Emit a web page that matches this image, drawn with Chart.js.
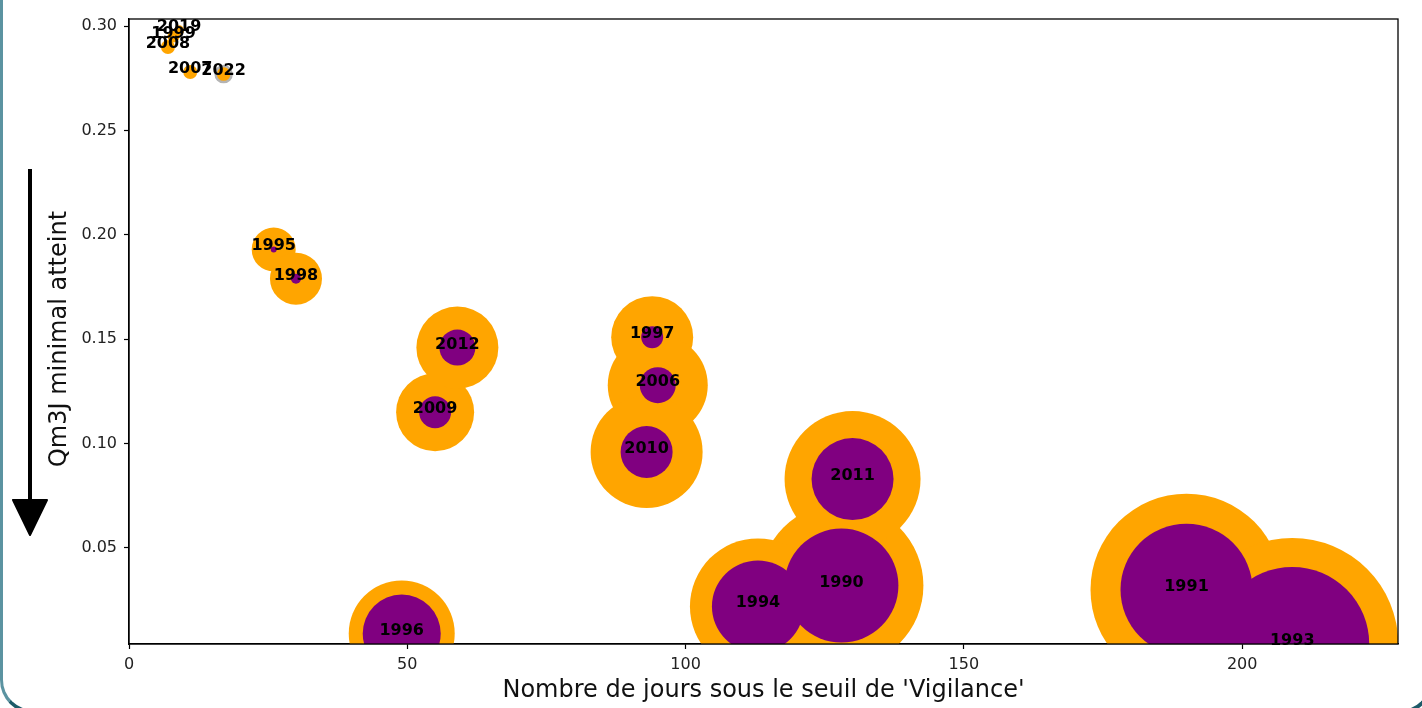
<!DOCTYPE html>
<html>
<head>
<meta charset="utf-8">
<script src="https://cdn.jsdelivr.net/npm/chart.js@4/dist/chart.umd.min.js"></script>
<style>
  html, body { margin: 0; padding: 0; width: 1422px; height: 708px; overflow: hidden; background: #ffffff; }
  #frame {
    position: absolute; left: 0; top: -40px; width: 1427px; height: 750px;
    border-left: 3px solid #5b93a1; border-right: 4px solid #1d5a68; border-bottom: 4px solid #1d5a68;
    border-radius: 0 0 34px 34px; background: #ffffff;
  }
  #wrap { position: absolute; left: 0; top: 0; width: 1422px; height: 708px; }
</style>
</head>
<body>
<div id="frame"></div>
<div id="wrap"><canvas id="chart"></canvas></div>
<script>
// Données
const years = [1990, 1991, 1993, 1994, 1995, 1996, 1997, 1998, 1999, 2006, 2007, 2008, 2009, 2010, 2011, 2012, 2019, 2022];
const joursVigilance = [128, 190, 209, 113, 26, 49, 94, 30, 8, 95, 11, 7, 55, 93, 130, 59, 9, 17];
const qm3jMin = [0.032, 0.030, 0.004, 0.022, 0.193, 0.009, 0.151, 0.179, 0.295, 0.128, 0.278, 0.290, 0.115, 0.096, 0.083, 0.146, 0.298, 0.277];
const tailleExt = [82, 96, 106, 68, 22, 53, 41, 26, 6, 50, 7, 7, 39, 56, 68, 41, 5, 8];
const tailleInt = [57, 66, 77, 46, 3, 39, 11, 5, 0, 18, 0, 0, 16, 26, 41, 18, 0, 0];
const anneeCourante = 2022;

const xTicks = [0, 50, 100, 150, 200];
const yTicks = [0.05, 0.10, 0.15, 0.20, 0.25, 0.30];
const titreX = "Nombre de jours sous le seuil de 'Vigilance'";
const titreY = "Qm3J minimal atteint";

// =======================
// Datasets
const ptsExt = years.map((a, i) => ({ x: joursVigilance[i], y: qm3jMin[i], r: tailleExt[i] }));
const ptsInt = years.map((a, i) => ({ x: joursVigilance[i], y: qm3jMin[i], r: tailleInt[i] }));

// Flèche + cadre + étiquettes
const decorPlugin = {
  id: "decor",
  afterDatasetsDraw(chart) {
    const { ctx, chartArea, scales } = chart;
    ctx.save();
    // étiquettes des années
    ctx.font = "bold 16px 'DejaVu Sans'";
    ctx.fillStyle = "#000";
    ctx.textAlign = "center";
    ctx.textBaseline = "alphabetic";
    years.forEach((a, i) => {
      const px = scales.x.getPixelForValue(joursVigilance[i]);
      const py = scales.y.getPixelForValue(qm3jMin[i]);
      ctx.fillText(String(a), px, py + 1);
    });
    // cadre
    ctx.strokeStyle = "#000";
    ctx.lineWidth = 1.3;
    ctx.strokeRect(chartArea.left, chartArea.top, chartArea.right - chartArea.left, chartArea.bottom - chartArea.top);
    ctx.restore();
  },
  afterDraw(chart) {
    const ctx = chart.ctx;
    ctx.save();
    // titre de l'axe Y
    ctx.translate(60, 339);
    ctx.rotate(-Math.PI / 2);
    ctx.font = "24px 'DejaVu Sans'";
    ctx.fillStyle = "#111";
    ctx.textAlign = "center";
    ctx.textBaseline = "middle";
    ctx.fillText(titreY, 0, 0);
    ctx.restore();

    ctx.save();
    ctx.strokeStyle = "#000";
    ctx.fillStyle = "#000";
    ctx.lineWidth = 4;
    ctx.beginPath();
    ctx.moveTo(30, 169);
    ctx.lineTo(30, 505);
    ctx.stroke();
    ctx.beginPath();
    ctx.lineJoin = "round";
    ctx.lineWidth = 2;
    ctx.moveTo(13, 500);
    ctx.lineTo(47, 500);
    ctx.lineTo(30, 535);
    ctx.closePath();
    ctx.fill();
    ctx.stroke();
    ctx.restore();
  },
};

new Chart(document.getElementById("chart"), {
  type: "bubble",
  data: {
    datasets: [
      {
        label: "Qm3J",
        data: ptsInt,
        backgroundColor: "#800080",
        borderWidth: 0,
        clip: 0,
        order: 0,
      },
      {
        label: "Jours",
        data: ptsExt,
        backgroundColor: "#ffa500",
        borderColor: years.map((a) => (a === anneeCourante ? "#b4b4b4" : "rgba(0,0,0,0)")),
        borderWidth: years.map((a) => (a === anneeCourante ? 2.5 : 0)),
        clip: 0,
        order: 1,
      },
    ],
  },
  options: {
    responsive: true,
    maintainAspectRatio: false,
    animation: false,
    events: [],
    layout: { autoPadding: false, padding: { top: 19, right: 24, left: 0, bottom: 0 } },
    plugins: { legend: { display: false }, tooltip: { enabled: false } },
    scales: {
      x: {
        type: "linear",
        min: 0,
        max: 228,
        afterBuildTicks: (s) => { s.ticks = xTicks.map((v) => ({ value: v })); },
        afterFit: (s) => { s.height = 64; },
        ticks: { color: "#222", font: { family: "DejaVu Sans", size: 16 }, padding: 6, maxRotation: 0 },
        grid: { drawOnChartArea: false, tickLength: 5, tickColor: "#000", tickWidth: 1.2 },
        border: { color: "#000", width: 1.3 },
        title: {
          display: true,
          text: titreX,
          color: "#111",
          font: { family: "DejaVu Sans", size: 24 },
          padding: { top: 0, bottom: 3 },
        },
      },
      y: {
        type: "linear",
        min: 0.004,
        max: 0.3034,
        afterBuildTicks: (s) => { s.ticks = yTicks.map((v) => ({ value: v })); },
        afterFit: (s) => { s.width = 129; },
        ticks: {
          color: "#222",
          font: { family: "DejaVu Sans", size: 16 },
          padding: 7,
          callback: (v) => Number(v).toFixed(2),
        },
        grid: { drawOnChartArea: false, tickLength: 5, tickColor: "#000", tickWidth: 1.2 },
        border: { color: "#000", width: 1.3 },
        title: { display: false },
      },
    },
  },
  plugins: [decorPlugin],
});
</script>
</body>
</html>
